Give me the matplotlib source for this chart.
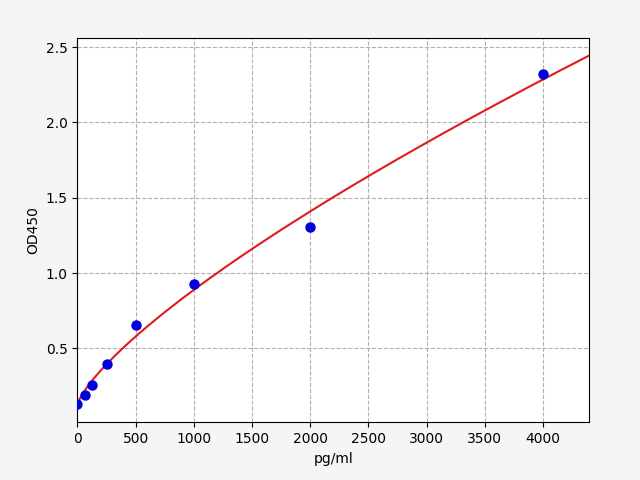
import numpy as np
import matplotlib
matplotlib.use("Agg")
import matplotlib.pyplot as plt

# standard concentrations (pg/ml) and measured OD450
conc = [0, 62.5, 125, 250, 500, 1000, 2000, 4000]
od450 = [0.129, 0.191, 0.257, 0.399, 0.654, 0.930, 1.306, 2.319]

x_max = 4400


def fit_power(x, y):
    # y = a + b * x**c, grid over c, linear least squares for a, b
    x = np.asarray(x, float)
    y = np.asarray(y, float)
    best = None
    for c in np.linspace(0.3, 1.5, 1201):
        A = np.column_stack([np.ones_like(x), x ** c])
        coef, *_ = np.linalg.lstsq(A, y, rcond=None)
        err = np.sum((A @ coef - y) ** 2)
        if best is None or err < best[0]:
            best = (err, coef[0], coef[1], c)
    _, a, b, c = best
    return lambda t: a + b * np.asarray(t, float) ** c


curve = fit_power(conc, od450)
xs = np.linspace(0, x_max, 400)

fig = plt.figure(figsize=(6.4, 4.8), dpi=100)
fig.patch.set_facecolor("#f5f5f5")
ax = fig.add_axes([0.121, 0.120, 0.800, 0.801])
ax.set_facecolor("white")

ax.plot(xs, curve(xs), color="#e01b1b", linewidth=1.5, zorder=2)
ax.plot(conc, od450, "o", color="#0000dd", markersize=6.5, zorder=3)

ax.set_xlim(0, x_max)
ax.grid(True, linestyle="--", color="#b0b0b0", linewidth=0.8)
ax.set_axisbelow(True)
ax.set_xlabel("pg/ml")
ax.set_ylabel("OD450")

fig.savefig("out.png", dpi=100, facecolor=fig.get_facecolor())
